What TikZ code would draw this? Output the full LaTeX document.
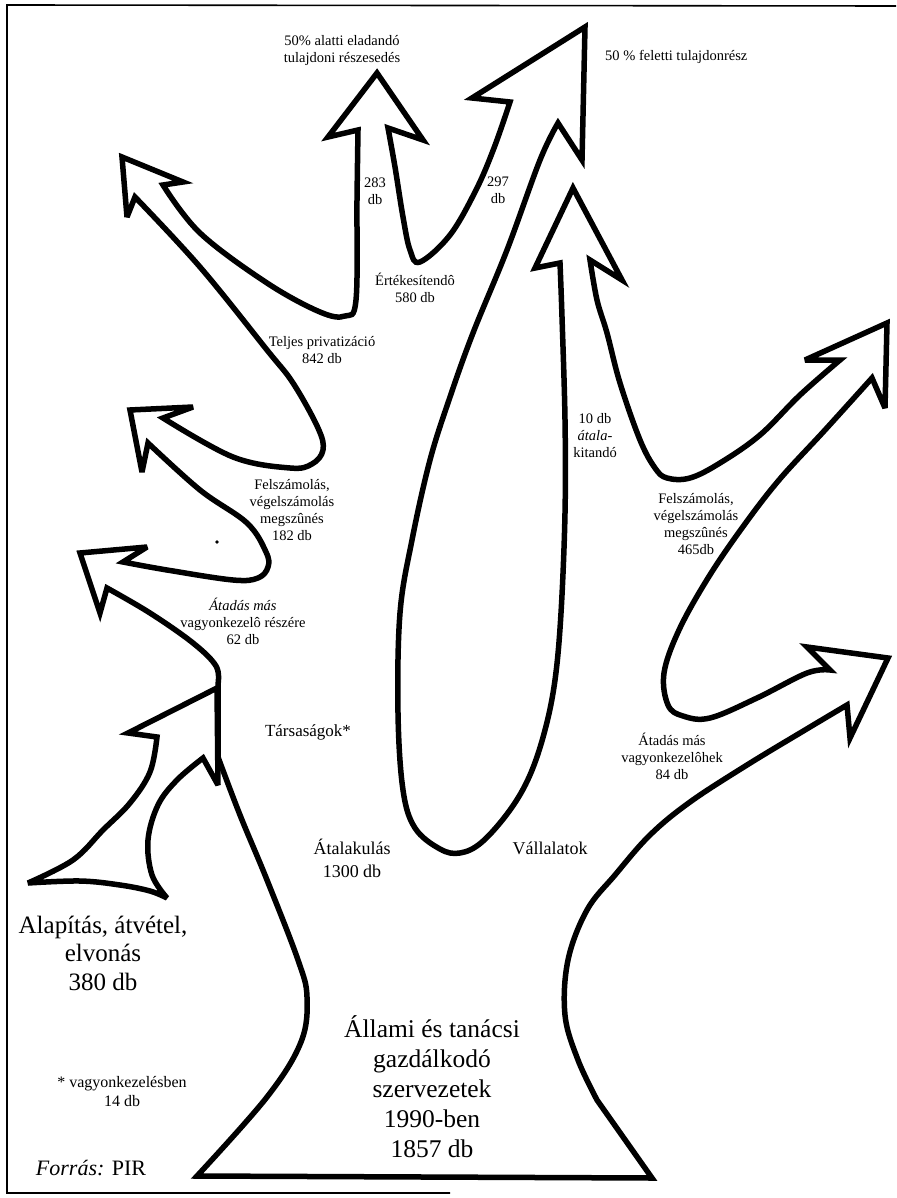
\documentclass[tikz,border=0pt]{standalone}
\usepackage{fontspec}
\setmainfont{Liberation Serif}
\begin{document}
\begin{tikzpicture}[x=1pt,y=-1pt,
  outline/.style={line width=5.5pt, line join=miter, miter limit=4},
  frame/.style={line width=1.6pt},
  lbl/.style={align=center, inner sep=0pt, font=\fontsize{14.5}{17}\selectfont},
  mid/.style={align=center, inner sep=0pt, font=\fontsize{18}{23}\selectfont},
  big/.style={align=center, inner sep=0pt, font=\fontsize{25}{29}\selectfont}]
\useasboundingbox (0,0) rectangle (896,1198);
% frame
\draw[frame] (896,6) -- (7,5) -- (7,1193) -- (450,1193);
% main outline
\draw[outline] (197,1176)
  -- plot[smooth, tension=0.6] coordinates {(197,1176) (267,1097) (301,1042) (307,997) (298,960) (267,880) (240,815) (218,757)}
  -- (218,684)
  -- plot[smooth, tension=0.6] coordinates {(218,684) (216,666) (193,643) (150,613) (107,588)}
  -- (100,613) -- (80,553) -- (147,547) -- (123,562)
  -- plot[smooth, tension=0.6] coordinates {(123,562) (167,570) (233,580) (258,578) (268,567) (266,552) (247,523) (200,490) (148,443)}
  -- (142,472) -- (130,410) -- (193,407) -- (163,418)
  -- plot[smooth, tension=0.6] coordinates {(163,418) (233,457) (290,468) (312,464) (323,450) (318,428) (293,383) (267,350) (200,267) (135,197)}
  -- (127,217) -- (122,157) -- (183,182) -- (163,185)
  -- plot[smooth, tension=0.6] coordinates {(163,185) (200,233) (267,283) (320,312) (345,316) (356,300) (357,200) (358,130)}
  -- (328,137) -- (377,73) -- (423,140) -- (388,128)
  -- plot[smooth, tension=0.6] coordinates {(388,128) (395,167) (403,217) (410,250) (420,262) (450,235) (476,190) (494,148) (510,102)}
  -- (472,98) -- (585,27) -- (582,160) -- (558,123)
  -- plot[smooth, tension=0.6] coordinates {(558,123) (540,160) (507,250) (473,333) (450,397) (430,460) (412,540) (400,613) (398,713) (403,790) (415,828) (440,849) (460,853) (482,842) (510,810) (530,775) (545,730) (555,680) (561,613) (565,513) (565,420) (562,317) (560,263)}
  -- (535,268) -- (573,188) -- (622,280) -- (590,260)
  -- plot[smooth, tension=0.6] coordinates {(590,260) (597,300) (607,333) (620,383) (640,440) (655,468) (667,478) (690,478) (720,463) (760,435) (800,395) (840,360)}
  -- (805,360) -- (887,323) -- (885,408) -- (872,378)
  -- plot[smooth, tension=0.6] coordinates {(872,378) (825,430) (779,480) (742,528) (708,578) (679,630) (664,673) (668,705) (683,716) (710,718) (757,698) (807,673) (830,670)}
  -- (807,647) -- (888,658) -- (850,738) -- (847,705)
  -- plot[smooth, tension=0.6] coordinates {(847,705) (805,730) (747,765) (690,802) (650,835) (615,875) (587,910) (568,960) (565,1015) (578,1060) (597,1100)}
  -- (652,1178) -- cycle;
% incoming arrow (Alapitas)
\draw[outline] (218,785) -- (203,758)
  -- plot[smooth, tension=0.6] coordinates {(203,758) (177,780) (158,805) (148,840) (152,875) (167,898)}
  -- plot[smooth, tension=0.6] coordinates {(167,898) (150,891) (120,885) (80,881) (28,883)}
  -- plot[smooth, tension=0.6] coordinates {(28,883) (73,860) (103,830) (130,803) (150,772) (157,737)}
  -- (128,733) -- (217,688) -- cycle;
\fill (217,542) circle (1.8);
% labels
\node[lbl] (n50a) at (342,51) {50\% alatti eladandó\\tulajdoni részesedés};
\node[lbl, anchor=west] (n50f) at (605,57) {50 \% feletti tulajdonrész};
\node[lbl] (n283) at (375,191) {283\\db};
\node[lbl] (n297) at (498,190) {297\\db};
\node[lbl] (nert) at (415,288) {Értékesítendô\\580 db};
\node[lbl] (ntelj) at (322,350) {Teljes privatizáció\\842 db};
\node[lbl] (nfel1) at (292,510) {Felszámolás,\\végelszámolás\\megszûnés\\182 db};
\node[lbl] (nat62) at (243,621) {\textit{Átadás más}\\vagyonkezelô részére\\62 db};
\node[lbl] (n10) at (595,436) {10 db\\\textit{átala-}\\kitandó};
\node[lbl] (nfel2) at (696,524) {Felszámolás,\\végelszámolás\\megszûnés\\465db};
\node[lbl] (nat84) at (672,756) {Átadás más\\vagyonkezelôhek\\84 db};
\node[mid, font=\fontsize{17}{23}\selectfont] (ntars) at (308,732) {Társaságok*};
\node[mid] (natal) at (352,858) {Átalakulás\\1300 db};
\node[mid] (nvall) at (550,848) {Vállalatok};
\node[big, font=\fontsize{25}{28.5}\selectfont] (nalap) at (103,953) {Alapítás, átvétel,\\elvonás\\380 db};
\node[big, font=\fontsize{25.5}{30}\selectfont] (nall) at (432,1087) {Állami és tanácsi\\gazdálkodó\\szervezetek\\1990-ben\\1857 db};
\node[lbl, font=\fontsize{16}{19}\selectfont] (nvagy) at (122,1092) {* vagyonkezelésben\\14 db};
\node[inner sep=0pt, font=\fontsize{22}{26}\selectfont] (nforr) at (91,1168) {\textit{Forrás:} PIR};
\end{tikzpicture}
\end{document}
